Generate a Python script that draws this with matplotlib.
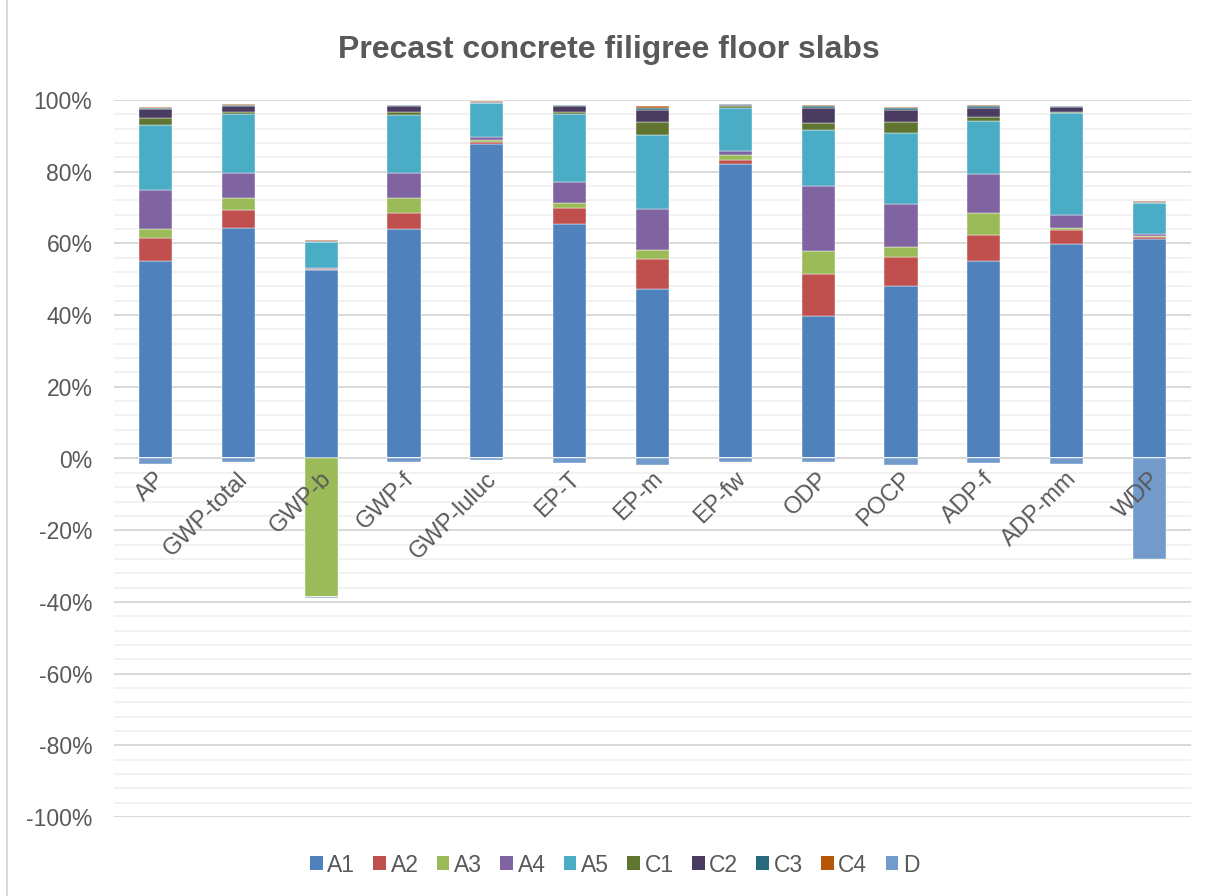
import matplotlib
matplotlib.use("Agg")
import matplotlib.pyplot as plt
import numpy as np
from matplotlib.patches import Patch
from matplotlib.lines import Line2D
from matplotlib.ticker import MultipleLocator, FuncFormatter

plt.rcParams['font.family'] = ['Liberation Sans', 'DejaVu Sans']

categories = ['AP', 'GWP-total', 'GWP-b', 'GWP-f', 'GWP-luluc', 'EP-T', 'EP-m',
              'EP-fw', 'ODP', 'POCP', 'ADP-f', 'ADP-mm', 'WDP']
series = ['A1', 'A2', 'A3', 'A4', 'A5', 'C1', 'C2', 'C3', 'C4', 'D']
colors = ['#4F81BD', '#C0504D', '#9BBB59', '#8064A2', '#4BACC6',
          '#5F7530', '#4A3B60', '#276A7C', '#B65708', '#729ACA']

# share of each module per indicator, in %
A1 = [55.0, 64.3, 52.7, 63.9, 87.8, 65.5, 47.2, 82.2, 39.7, 48.0, 55.2, 59.7, 61.3]
A2 = [6.5, 4.9, 0.1, 4.6, 0.5, 4.4, 8.5, 1.2, 11.7, 8.3, 7.1, 3.9, 0.5]
A3 = [2.4, 3.5, -38.5, 4.2, 0.5, 1.5, 2.4, 1.2, 6.5, 2.8, 6.3, 0.7, 0.3]
A4 = [11.1, 6.9, 0.2, 7.0, 0.9, 5.6, 11.6, 1.3, 18.2, 11.9, 10.8, 3.7, 0.4]
A5 = [17.9, 16.4, 7.4, 16.0, 9.4, 19.2, 20.5, 12.0, 15.5, 19.7, 14.7, 28.5, 8.8]
C1 = [2.2, 0.6, 0.1, 0.9, 0.1, 0.4, 3.7, 0.3, 2.1, 3.3, 1.2, 0.1, 0.1]
C2 = [2.3, 1.7, 0.2, 1.7, 0.2, 1.7, 3.2, 0.4, 4.2, 3.1, 2.6, 1.4, 0.1]
C3 = [0.5, 0.3, 0.1, 0.3, 0.1, 0.2, 0.8, 0.2, 0.3, 0.6, 0.4, 0.2, 0.1]
C4 = [0.1, 0.2, 0.1, 0.1, 0.1, 0.2, 0.3, 0.2, 0.3, 0.3, 0.3, 0.2, 0.1]
D = [-1.6, -1.0, -0.5, -1.0, -0.3, -1.3, -1.8, -1.0, -1.1, -1.8, -1.2, -1.6, -28.1]

values = [A1, A2, A3, A4, A5, C1, C2, C3, C4, D]

W, H = 1217, 896
fig = plt.figure(figsize=(W / 100, H / 100), dpi=100)
ax = fig.add_axes([114 / W, 1 - 817 / H, (1191 - 114) / W, (817 - 100) / H])

x = np.arange(len(categories))
pos_base = np.zeros(len(categories))
neg_base = np.zeros(len(categories))
for name, vals, c in zip(series, values, colors):
    v = np.array(vals)
    p = np.where(v > 0, v, 0)
    n = np.where(v < 0, v, 0)
    ax.bar(x, p, 0.4, bottom=pos_base, color=c, edgecolor='white', linewidth=0.3, zorder=3)
    ax.bar(x, n, 0.4, bottom=neg_base, color=c, edgecolor='white', linewidth=0.3, zorder=3)
    pos_base += p
    neg_base += n

ax.set_xlim(-0.5, len(categories) - 0.5)
ax.set_ylim(-100, 100)
ax.yaxis.set_major_locator(MultipleLocator(20))
ax.yaxis.set_minor_locator(MultipleLocator(4))
ax.yaxis.set_major_formatter(FuncFormatter(lambda v, _: '{:.0f}%'.format(v)))
ax.grid(which='major', axis='y', color='#d9d9d9', linewidth=1.4, zorder=0)
ax.grid(which='minor', axis='y', color='#f2f2f2', linewidth=1.4, zorder=0)
ax.axhline(0, color='#d9d9d9', linewidth=1.4, zorder=2)
for s in ax.spines.values():
    s.set_visible(False)
ax.tick_params(axis='y', which='both', length=0, pad=15.5, labelsize=16.5, labelcolor='#595959')
ax.tick_params(axis='x', length=0)
ax.set_xticks([])

for i, cat in enumerate(categories):
    ax.text(i + 0.08, -4.8, cat, rotation=45, rotation_mode='anchor', ha='right', va='center',
            fontsize=17, color='#595959', zorder=4)

fig.text(0.5, 1 - 50 / H, 'Precast concrete filigree floor slabs', ha='center', va='center',
         fontsize=23, fontweight='bold', color='#595959')

handles = [Patch(facecolor=c, edgecolor='none') for c in colors]
fig.legend(handles, series, loc='center', bbox_to_anchor=(0.505, 1 - 865 / H), ncol=10,
           frameon=False, fontsize=16.5, labelcolor='#595959', handlelength=0.55,
           handleheight=0.55, handletextpad=0.2, columnspacing=0.8)

fig.add_artist(Line2D([7 / W, 7 / W], [0, 1], transform=fig.transFigure, color='#d9d9d9', linewidth=1.5))

fig.savefig('out.png', dpi=100)
